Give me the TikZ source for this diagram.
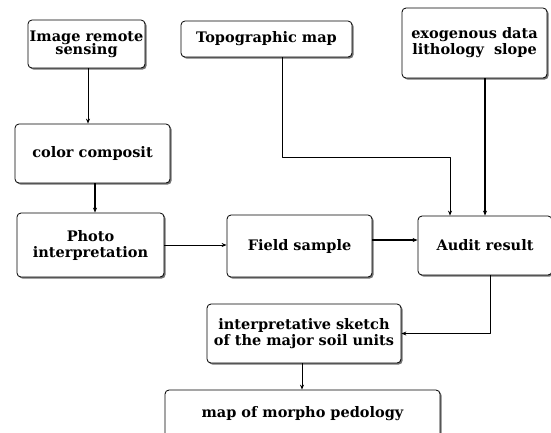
\documentclass[tikz,border=0pt]{standalone}
\usepackage{fontspec}
\setmainfont{DejaVu Serif}
\usetikzlibrary{arrows.meta,shadows,calc}

\begin{document}
\begin{tikzpicture}[x=1pt,y=-1pt,line join=round,
  stage/.style={draw,thick,rounded corners=4pt,fill=white,align=center,inner sep=1pt,
    font=\bfseries\fontsize{14.5}{16}\selectfont,
    drop shadow={shadow xshift=1.6pt,shadow yshift=-1.6pt,fill=black!55,opacity=1}},
  flow/.style={draw,line width=0.9pt,-{Stealth[length=5pt,width=4pt]}}]
  \useasboundingbox (0,0) rectangle (551,432);
  \node[stage,minimum width=117,minimum height=48] (rs) at (86.5,44) {Image remote\\[-3pt]sensing};
  \node[stage,minimum width=171,minimum height=36] (topo) at (266.5,39) {Topographic map};
  \node[stage,minimum width=145,minimum height=70] (exo) at (474.5,43) {exogenous data\\lithology\ \ slope};
  \node[stage,minimum width=155,minimum height=59] (cc) at (92.5,153.5) {color composit};
  \node[stage,minimum width=147,minimum height=64] (photo) at (90.5,245) {Photo\\interpretation};
  \node[stage,minimum width=145,minimum height=62] (field) at (299.5,246) {Field sample};
  \node[stage,minimum width=134,minimum height=59] (audit) at (485,245.5) {Audit result};
  \node[stage,minimum width=194,minimum height=59] (interp) at (304,333.5) {interpretative sketch\\of the major soil units};
  \node[stage,minimum width=275,minimum height=48] (map) at (302.5,414) {map of morpho pedology};
  \coordinate (bend) at (450,157);
  \draw[flow] ([xshift=1.5pt]rs.south) -- ([xshift=1.5pt]rs.south |- cc.north);
  \draw[flow,line width=1.3pt] ([xshift=2.5pt]cc.south) -- ([xshift=2.5pt]cc.south |- photo.north);
  \draw[flow] (photo.east) -- (photo.east -| field.west);
  \draw[flow,line width=1.8pt] ([yshift=6pt]field.east) -- ([yshift=6pt]field.east -| audit.west);
  \draw[flow] ([xshift=15.5pt]topo.south) |- (bend) -- (bend |- audit.north);
  \draw[flow,line width=1.4pt] ([xshift=10.5pt]exo.south) -- ([xshift=10.5pt]exo.south |- audit.north);
  \draw[flow] ([xshift=5pt]audit.south) |- (interp.east);
  \draw[flow] ([xshift=-2pt]interp.south) -- ([xshift=-2pt]interp.south |- map.north);
\end{tikzpicture}
\end{document}
